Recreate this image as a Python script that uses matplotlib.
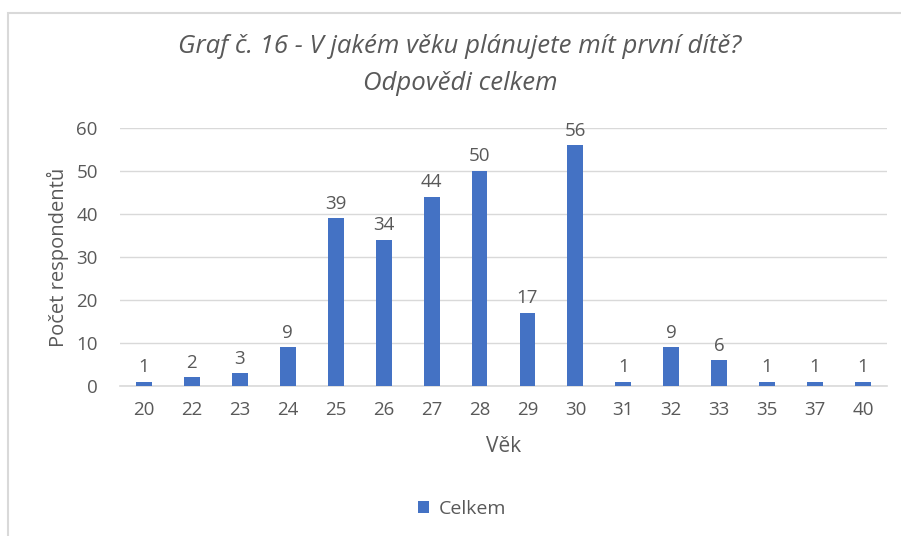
import matplotlib.pyplot as plt
from matplotlib.patches import Rectangle

vek = ["20", "22", "23", "24", "25", "26", "27", "28", "29", "30",
       "31", "32", "33", "35", "37", "40"]
celkem = [1, 2, 3, 9, 39, 34, 44, 50, 17, 56, 1, 9, 6, 1, 1, 1]

plt.rcParams['font.family'] = ['Open Sans', 'DejaVu Sans']
gray = '#595959'
blue = '#4472C4'

fig = plt.figure(figsize=(9.01, 5.36), dpi=100)
W, H = 901, 536
ax = fig.add_axes([120 / W, 1 - 386 / H, 767 / W, 258 / H])

x = range(len(vek))
bars = ax.bar(x, celkem, width=0.33, color=blue, label='Celkem', zorder=3)
ax.bar_label(bars, padding=4, fontsize=13.5, color=gray)

ax.set_xlim(-0.5, len(vek) - 0.5)
ax.set_ylim(0, 60)
ax.set_yticks(range(0, 61, 10))
ax.set_xticks(list(x))
ax.set_xticklabels(vek)
ax.tick_params(length=0, labelsize=13.5, colors=gray, pad=11)
ax.tick_params(axis='y', pad=16)
ax.grid(axis='y', color='#d9d9d9', linewidth=1, zorder=0)
for s in ['top', 'right', 'left']:
    ax.spines[s].set_visible(False)
ax.spines['bottom'].set_color('#d9d9d9')
ax.spines['bottom'].set_linewidth(1.2)

ax.set_xlabel('Věk', fontsize=15, color=gray, labelpad=12)
ax.set_ylabel('Počet respondentů', fontsize=14.5, color=gray, labelpad=5)

fig.text(460 / W, 1 - 65 / H, 'Graf č. 16 - V jakém věku plánujete mít první dítě?\nOdpovědi celkem',
         ha='center', va='center', fontsize=18.5, style='italic', color=gray, linespacing=1.6)

leg = fig.legend(handles=[bars], labels=['Celkem'], loc='center',
                 bbox_to_anchor=(462 / W, 1 - 509 / H), frameon=False,
                 fontsize=14, handlelength=0.6, handleheight=0.6, handletextpad=0.5)
for t in leg.get_texts():
    t.set_color(gray)

fig.patches.append(Rectangle((8 / W, -0.1), 1.2, 1 - 13 / H + 0.1,
                             transform=fig.transFigure, fill=False,
                             edgecolor='#d9d9d9', linewidth=1.5))

fig.savefig('out.png', dpi=100)
